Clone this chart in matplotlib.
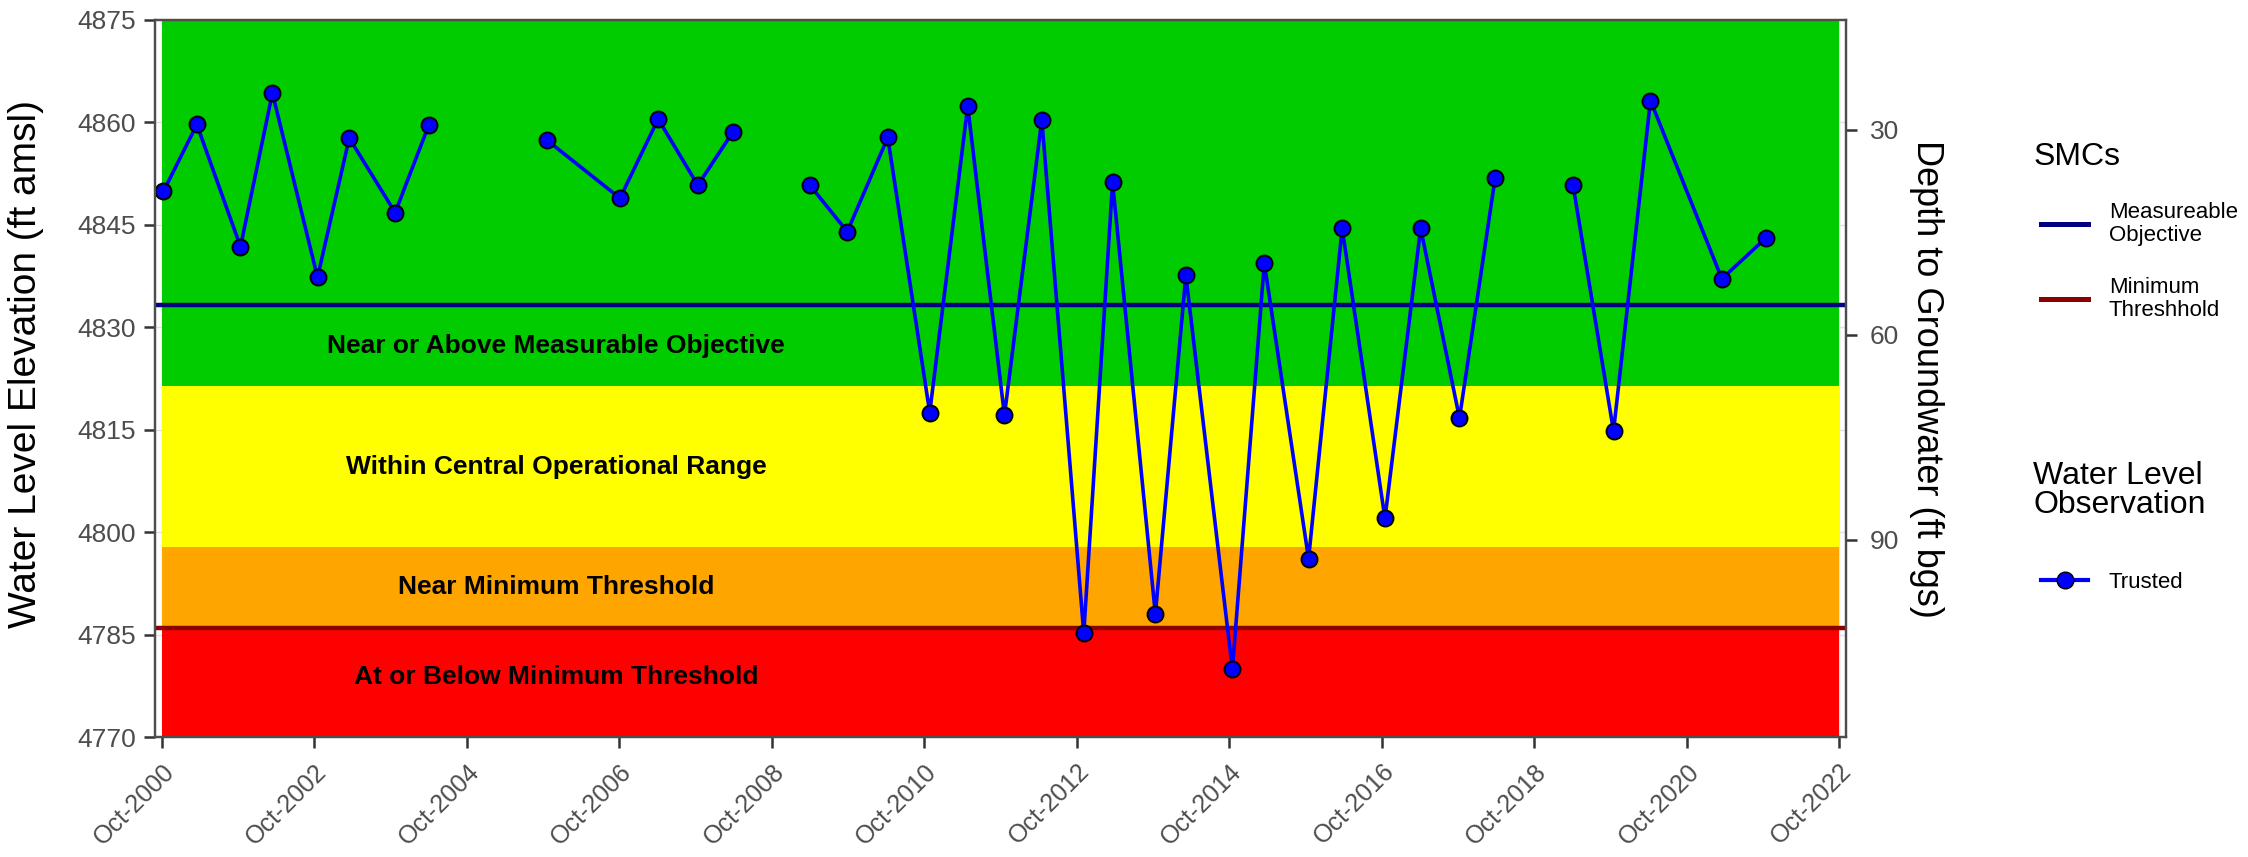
import numpy as np
import pandas as pd
import matplotlib
matplotlib.use("Agg")
import matplotlib.pyplot as plt
from matplotlib.lines import Line2D

plt.rcParams['font.family'] = ['Liberation Sans', 'DejaVu Sans']

# observation dates and water level elevation (ft amsl); NaN = no sample, breaks the line
obs_dates = ["2000-10-08", "2001-03-17", "2001-10-12", "2002-03-14", "2002-10-16",
             "2003-03-17", "2003-10-23", "2004-04-01", "2004-10-15",
             "2005-10-19", "2006-10-04", "2007-04-05", "2007-10-12", "2008-03-28",
             "2008-10-15",
             "2009-04-01", "2009-09-27", "2010-04-09", "2010-10-27", "2011-04-27",
             "2011-10-20", "2012-04-16", "2012-11-03", "2013-03-21", "2013-10-12",
             "2014-03-07", "2014-10-16", "2015-03-18", "2015-10-16", "2016-03-25",
             "2016-10-16", "2017-04-05", "2017-10-08", "2018-03-28", "2018-10-15",
             "2019-04-05", "2019-10-16", "2020-04-10", "2021-03-18", "2021-10-16"]
obs_elev = [4849.9, 4859.7, 4841.8, 4864.3, 4837.3,
            4857.7, 4846.8, 4859.6, np.nan,
            4857.4, 4848.9, 4860.5, 4850.8, 4858.6,
            np.nan,
            4850.8, 4844.0, 4857.8, 4817.5, 4862.4,
            4817.1, 4860.4, 4785.2, 4851.2, 4788.0,
            4837.6, 4779.9, 4839.4, 4796.1, 4844.5,
            4802.0, 4844.5, 4816.7, 4851.9, np.nan,
            4850.8, 4814.8, 4863.2, 4837.1, 4843.1]

# sustainable management criteria
measurable_objective = 4833.2
minimum_threshold = 4786.0
ground_surface = 4888.9

# status bands
band_bottoms = [4821.4, 4797.8, 4786.0, 4770.0]
band_tops = [4875.0, 4821.4, 4797.8, 4786.0]
band_colors = ["#00CC00", "#FFFF00", "#FFA500", "#FF0000"]
band_labels = ["Near or Above Measurable Objective", "Within Central Operational Range",
               "Near Minimum Threshold", "At or Below Minimum Threshold"]
band_label_y = [4827.3, 4809.6, 4791.9, 4778.8]

period_start = pd.Timestamp("2000-10-01")
period_end = pd.Timestamp("2022-10-01")
label_date = pd.Timestamp("2005-12-01")

tick_years = list(range(2000, 2023, 2))
y_ticks = [4770, 4785, 4800, 4815, 4830, 4845, 4860, 4875]
depth_ticks = [30, 60, 90]

dates = pd.to_datetime(obs_dates)
elev = np.array(obs_elev)

fig = plt.figure(figsize=(22.48, 8.57), dpi=100)
ax = fig.add_axes([0.069, 0.140, 0.7522, 0.8367])

ax.set_axisbelow(True)
ax.grid(True, color="#e3e3e3", lw=1)

for lo, hi, c in zip(band_bottoms, band_tops, band_colors):
    ax.fill_between([period_start, period_end], lo, hi, color=c, lw=0, zorder=1)

for txt, yy in zip(band_labels, band_label_y):
    ax.text(label_date, yy, txt, ha="center", va="center", fontsize=19,
            fontweight="bold", color="black", zorder=3)

ax.axhline(measurable_objective, color="#000080", lw=3.2, zorder=2)
ax.axhline(minimum_threshold, color="#8B0000", lw=3.2, zorder=2)

ax.plot(dates, elev, color="#0000FF", lw=2.6, marker="o", markersize=11.5,
        markerfacecolor="#0000FF", markeredgecolor="black", markeredgewidth=1.4, zorder=4)

pad = pd.Timedelta(days=33)
ax.set_xlim(period_start - pad, period_end + pad)
ax.set_ylim(4770, 4875)

xt = [pd.Timestamp(f"{y}-10-01") for y in tick_years]
ax.set_xticks(xt)
ax.set_xticklabels([t.strftime("%b-%Y") for t in xt], rotation=45, ha="right",
                   rotation_mode="anchor", fontsize=18, color="#4d4d4d")
ax.set_yticks(y_ticks)
ax.set_yticklabels([str(v) for v in y_ticks], fontsize=19, color="#4d4d4d")
ax.tick_params(axis="both", length=8, width=1.8, color="#333333", pad=6)
ax.tick_params(axis="x", pad=8)

for s in ax.spines.values():
    s.set_color("#4d4d4d")
    s.set_linewidth(1.6)

ax.set_ylabel("Water Level Elevation (ft amsl)", fontsize=28, color="black")
ax.yaxis.set_label_coords(-0.066, 0.52)

ax2 = ax.twinx()
ax2.set_ylim(ground_surface - 4770, ground_surface - 4875)
ax2.set_yticks(depth_ticks)
ax2.set_yticklabels([str(v) for v in depth_ticks], fontsize=19, color="#4d4d4d")
ax2.tick_params(axis="y", length=8, width=1.8, color="#333333", pad=9)
for s in ax2.spines.values():
    s.set_color("#4d4d4d")
    s.set_linewidth(1.6)
ax2.set_ylabel("Depth to Groundwater (ft bgs)", fontsize=26, rotation=270, color="black")
ax2.yaxis.label.set_verticalalignment("bottom")
ax2.yaxis.set_label_coords(1.037, 0.5)

# legends: titles as figure text, entries as legends
fig.text(0.9045, 0.817, "SMCs", fontsize=23, ha="left", va="center")
fig.text(0.9045, 0.428, "Water Level\nObservation", fontsize=23, ha="left",
         va="center", linespacing=0.95)

smc_handles = [Line2D([], [], color="#000080", lw=3.6),
               Line2D([], [], color="#8B0000", lw=3.6)]
leg1 = fig.legend(smc_handles, ["Measureable\nObjective", "Minimum\nThreshhold"],
                  loc="upper left", bbox_to_anchor=(0.908, 0.764), frameon=False,
                  fontsize=16, handlelength=2.1, handletextpad=0.95, labelspacing=1.4,
                  borderpad=0, borderaxespad=0)
for t in leg1.get_texts():
    t.set_linespacing(1.1)

obs_handles = [Line2D([], [], color="#0000FF", lw=3.0, marker="o", markersize=12,
                      markerfacecolor="#0000FF", markeredgecolor="black")]
leg2 = fig.legend(obs_handles, ["Trusted"], loc="upper left",
                  bbox_to_anchor=(0.908, 0.333), frameon=False, fontsize=16,
                  handlelength=2.1, handletextpad=0.95, borderpad=0, borderaxespad=0)

fig.savefig("out.png", dpi=100)
